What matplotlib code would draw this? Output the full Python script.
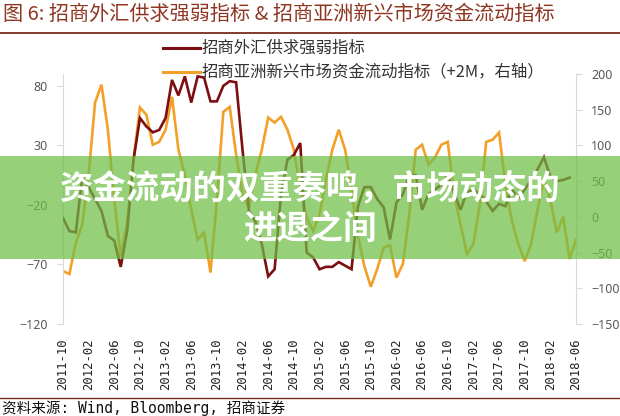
import matplotlib
matplotlib.use("Agg")
import matplotlib.pyplot as plt
from matplotlib.patches import Rectangle
from matplotlib.lines import Line2D
import pandas as pd

plt.rcParams['font.family'] = ['Noto Sans CJK SC', 'DejaVu Sans']

# ---- data ----
months = pd.date_range('2011-10-01', '2018-06-01', freq='MS').strftime('%Y-%m').tolist()
tick_labels = months[::4]

fx_strength = [-31, -42, -43, 3, -5, -15, -25, -46, -50, -72,
               -42, 18, 53, 46, 41, 43, 53, 85, 72, 88,
               66, 88, 87, 67, 67, 80, 84, 83, 26, -25,
               -34, -53, -80, -74, -11, 18, 22, 32, -60, -64,
               -74, -72, -72, -68, -71, -74, -21, -5, -5, -15,
               -22, -49, -18, -11, 5, 5, -24, -11, -7, -3,
               5, -10, -24, -9, -7, -11, -17, -25, -19, -21,
               -7, -14, -7, 1, 10, 20, 4, 0, 1, 3]

em_flow = [-76, -80, -36, -11, 59, 160, 185, 122, 24, -55,
           -8, 80, 153, 143, 101, 105, 122, 168, 94, 59,
           10, -32, -22, -78, 24, 147, 154, 87, 31, 13,
           59, 94, 139, 132, 140, 122, 94, 38, -1, -20,
           3, 52, 94, 122, 94, 38, -27, -69, -98, -73,
           -43, -40, -85, -66, 3, 94, 101, 73, 83, 101,
           105, 31, -11, -52, -38, 17, 105, 108, 118, 45,
           -6, -38, -62, -38, 10, 52, 24, -22, 0, -59,
           -32]

left_ticks = [-120, -70, -20, 30, 80]
right_ticks = [-150, -100, -50, 0, 50, 100, 150, 200]

title = "图 6: 招商外汇供求强弱指标 & 招商亚洲新兴市场资金流动指标"
legend1 = "招商外汇供求强弱指标"
legend2 = "招商亚洲新兴市场资金流动指标（+2M，右轴）"
source = "资料来源: Wind, Bloomberg, 招商证券"
banner1 = "资金流动的双重奏鸣，市场动态的"
banner2 = "进退之间"

RED = '#7d0f12'
ORANGE = '#f3a02a'
TITLE_C = '#8e3622'
GRAY = '#595959'

W, H = 620, 416
fig = plt.figure(figsize=(6.2, 4.16), dpi=100)
fig.patch.set_facecolor('white')

x0, x1, ytop, ybot = 63, 576, 74, 324
ax = fig.add_axes([x0 / W, (H - ybot) / H, (x1 - x0) / W, (ybot - ytop) / H])
ax2 = ax.twinx()

xs_red = list(range(len(fx_strength)))
xs_or = list(range(len(em_flow)))
ax.plot(xs_red, fx_strength, color=RED, lw=1.9, zorder=3, solid_joinstyle='miter')
ax2.plot(xs_or, em_flow, color=ORANGE, lw=1.9, zorder=2, solid_joinstyle='miter')
ax.set_zorder(ax2.get_zorder() + 1)
ax.patch.set_visible(False)

ax.set_xlim(0, len(months) - 1)
ax.set_ylim(-120, 90)
ax2.set_ylim(-150, 200)
ax.set_yticks(left_ticks)
ax2.set_yticks(right_ticks)
ax.set_xticks(range(0, len(months), 4))
ax.set_xticklabels(tick_labels, rotation=90, family='DejaVu Sans Mono', fontsize=8.8, color='#222222')
ax.tick_params(axis='x', length=0, pad=10)
for a in (ax, ax2):
    for s in ('top', 'bottom'):
        a.spines[s].set_visible(False)
ax.spines['right'].set_visible(False)
ax2.spines['left'].set_visible(False)
ax.spines['left'].set_color('#d9d9d9')
ax2.spines['right'].set_color('#d9d9d9')
ax.tick_params(axis='y', length=4, color='#d9d9d9', pad=7, labelsize=9, labelcolor=GRAY)
ax2.tick_params(axis='y', length=4, color='#d9d9d9', pad=7, labelsize=9, labelcolor=GRAY)
for lab in ax.get_yticklabels() + ax2.get_yticklabels():
    lab.set_family(['Noto Sans', 'DejaVu Sans'])

# title and rules
fig.text(3 / W, 1 - 14 / H, title, fontsize=14.5, color=TITLE_C, va='center', ha='left', weight='medium')
fig.add_artist(Line2D([0, 1], [1 - 33 / H, 1 - 33 / H], color='#7a2a1c', lw=1.3))
fig.add_artist(Line2D([0, 1], [1 - 398 / H, 1 - 398 / H], color='#7a2a1c', lw=1.0))
fig.text(2 / W, 1 - 408 / H, source, fontsize=10.5, color='#111111', va='center', ha='left',
         family=['DejaVu Sans Mono', 'Noto Sans CJK SC'])

# legend
fig.add_artist(Line2D([163 / W, 200 / W], [1 - 48 / H] * 2, color=RED, lw=2.2))
fig.add_artist(Line2D([163 / W, 200 / W], [1 - 72 / H] * 2, color=ORANGE, lw=2.2))
fig.text(202 / W, 1 - 48 / H, legend1, fontsize=11.8, color='#333333', va='center', ha='left')
fig.text(202 / W, 1 - 72 / H, legend2, fontsize=11.8, color='#333333', va='center', ha='left')

# banner overlay
fig.add_artist(Rectangle((0, 1 - 259 / H), 1, 103 / H, transform=fig.transFigure,
                         facecolor='#6ebe46', alpha=0.72, edgecolor='none', zorder=10))
fig.text(0.5, 1 - 190 / H, banner1, fontsize=24, color='white', weight='bold',
         ha='center', va='center', zorder=11)
fig.text(0.5, 1 - 229 / H, banner2, fontsize=24, color='white', weight='bold',
         ha='center', va='center', zorder=11)

fig.savefig('out.png', dpi=100)
